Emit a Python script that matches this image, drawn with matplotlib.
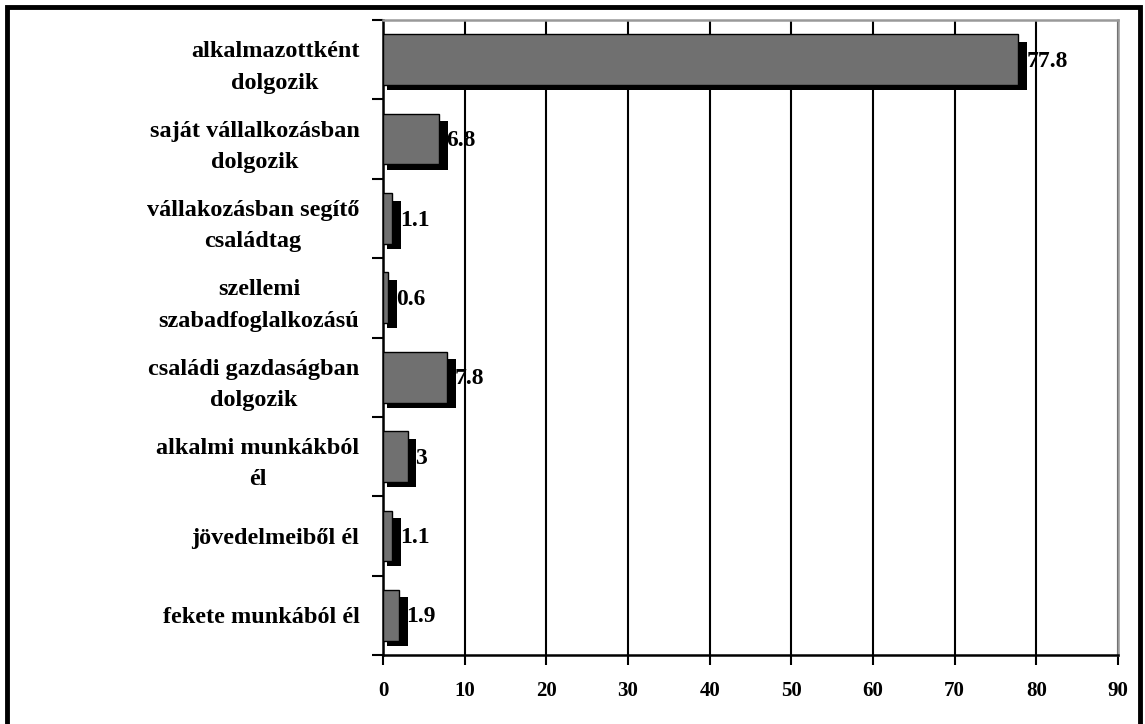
import matplotlib.pyplot as plt
from matplotlib.patches import Rectangle

plt.rcParams['font.family'] = ['Liberation Serif', 'DejaVu Serif']

# data (top to bottom)
categories = ['alkalmazottként\ndolgozik', 'saját vállalkozásban\ndolgozik',
              'vállakozásban segítő\ncsaládtag', 'szellemi\nszabadfoglalkozású',
              'családi gazdaságban\ndolgozik', 'alkalmi munkákból\nél',
              'jövedelmeiből él', 'fekete munkából él']
values = [77.8, 6.8, 1.1, 0.6, 7.8, 3, 1.1, 1.9]
value_labels = ['77.8', '6.8', '1.1', '0.6', '7.8', '3', '1.1', '1.9']
xticks = list(range(0, 91, 10))

fig = plt.figure(figsize=(11.45, 7.24), dpi=100)
ax = fig.add_axes([383 / 1145, 1 - 655 / 724, (1118 - 383) / 1145, 635 / 724])

ypos = list(range(len(values)))
bar_h = 0.64
# shadow: shifted right/down and a little wider
shadow_left = 0.5
shadow_w = [v + 0.6 for v in values]
ax.barh([y + 0.08 for y in ypos], shadow_w, left=shadow_left, height=bar_h - 0.03,
        color='black', zorder=2)
ax.barh(ypos, values, height=bar_h, color='#707070', edgecolor='black',
        linewidth=1.0, zorder=3)

for y, v, lab in zip(ypos, values, value_labels):
    ax.text(v + 0.95, y + 0.02, lab, ha='left', va='center', fontsize=17,
            fontweight='bold', zorder=4)

ax.set_xlim(0, 90)
ax.set_ylim(len(values) - 0.5, -0.5)
ax.set_xticks(xticks)
ax.set_xticklabels([str(t) for t in xticks], fontsize=15, fontweight='bold')
ax.set_yticks(ypos)
ax.set_yticklabels(categories, fontsize=17.5, fontweight='bold',
                   multialignment='center', linespacing=1.65)
ax.tick_params(axis='y', length=0, pad=17)
ax.set_yticks([y + 0.5 for y in range(-1, len(values))], minor=True)
ax.tick_params(axis='y', which='minor', length=8, width=1.5, direction='out')
ax.tick_params(axis='x', length=7, width=1.5, direction='out', pad=12)

ax.grid(True, axis='x', color='black', linewidth=1.5, zorder=1)
ax.set_axisbelow(True)
for side in ['left', 'bottom']:
    ax.spines[side].set_linewidth(1.8)
    ax.spines[side].set_color('black')
for side in ['top', 'right']:
    ax.spines[side].set_linewidth(1.8)
    ax.spines[side].set_color('#999999')

# outer frame
fig.patches.append(Rectangle((7 / 1145, -0.05), 1133 / 1145, 1 - 7 / 724 + 0.05,
                             transform=fig.transFigure, fill=False,
                             edgecolor='black', linewidth=3.5))

fig.savefig('out.png', dpi=100)
